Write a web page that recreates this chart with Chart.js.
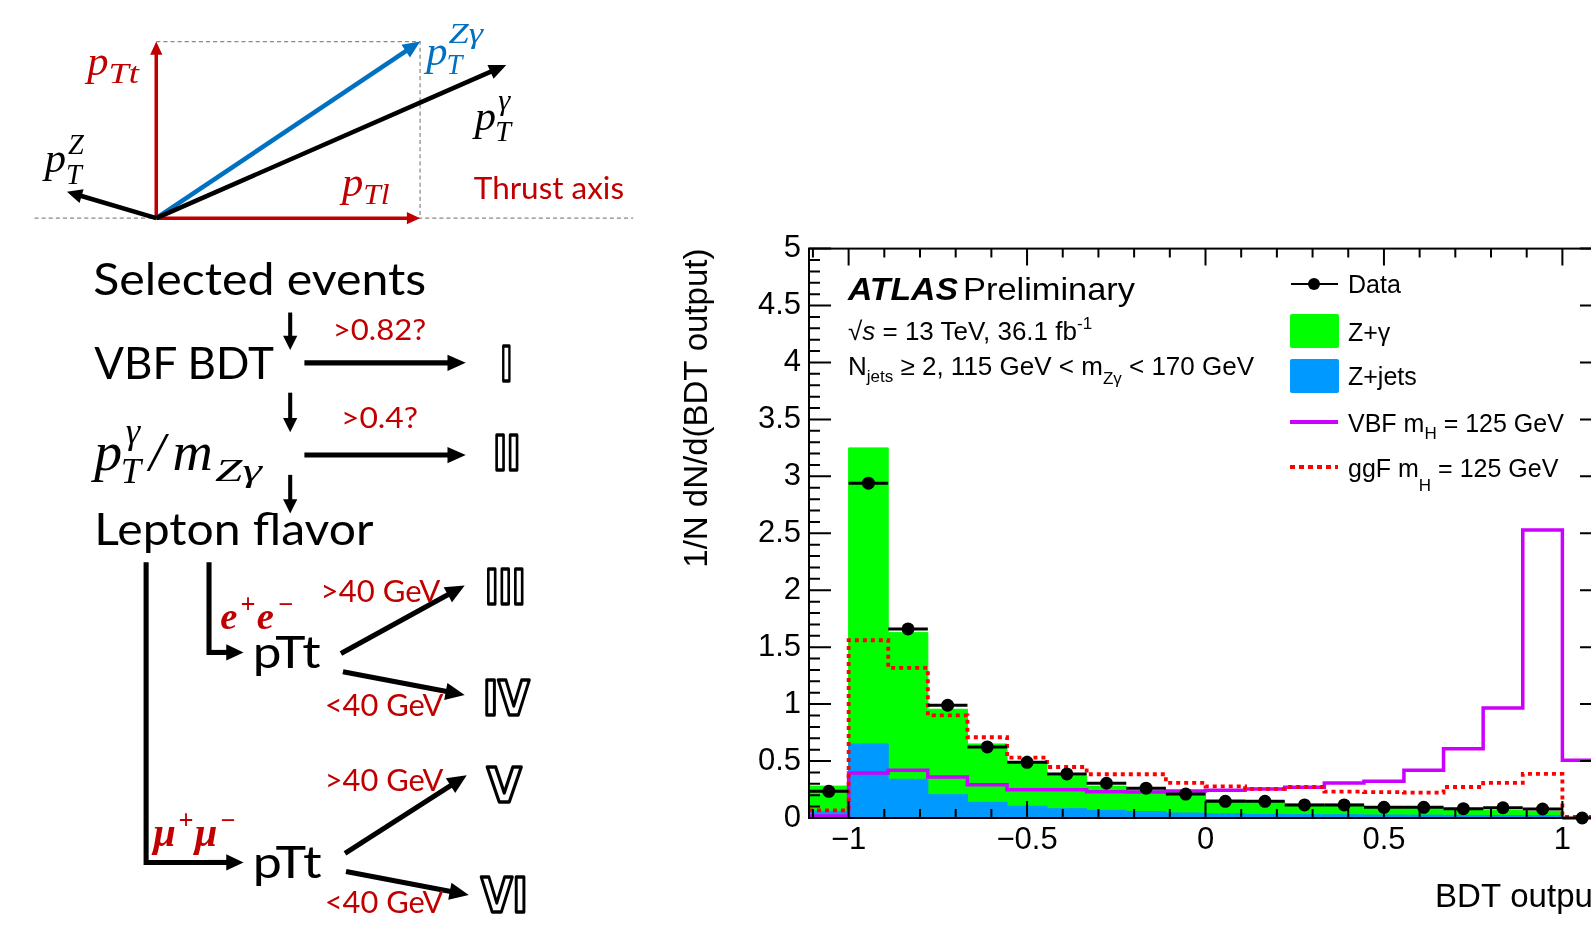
<!DOCTYPE html>
<html>
<head>
<meta charset="utf-8">
<script src="https://cdn.jsdelivr.net/npm/chart.js"></script>
<style>
  html, body { margin: 0; padding: 0; background: #fff; }
  body { width: 1591px; height: 927px; overflow: hidden; position: relative; }
  #plot { position: absolute; left: 640px; top: 0; width: 1000px; height: 927px; }
  #overlay { position: absolute; left: 0; top: 0; pointer-events: none; }
</style>
</head>
<body>
<div id="plot"><canvas id="bdt" width="1000" height="927"></canvas></div>
<svg id="overlay" width="1591" height="927" viewBox="0 0 1591 927" xmlns="http://www.w3.org/2000/svg">
  <g id="diagram" transform="scale(1.01467)"></g>
  <g font-family="Liberation Sans, Arial, sans-serif" fill="#000">
    <text x="848" y="300" font-size="32" font-weight="bold" font-style="italic" textLength="110" lengthAdjust="spacingAndGlyphs">ATLAS</text>
    <text x="963" y="300" font-size="32" textLength="172" lengthAdjust="spacingAndGlyphs">Preliminary</text>
    <text x="848" y="340" font-size="26">√<tspan font-style="italic">s</tspan> = 13 TeV, 36.1 fb<tspan font-size="17" dy="-11">-1</tspan></text>
    <text x="848" y="375" font-size="26">N<tspan font-size="17" dy="7">jets</tspan><tspan dy="-7"> ≥ 2, 115 GeV &lt; m</tspan><tspan font-size="17" dy="9">Zγ</tspan><tspan dy="-9"> &lt; 170 GeV</tspan></text>

    <line x1="1291" y1="284" x2="1338" y2="284" stroke="#000" stroke-width="2"/>
    <circle cx="1314" cy="284" r="6" fill="#000"/>
    <text x="1348" y="293" font-size="25">Data</text>
    <rect x="1290" y="314" width="49" height="34" rx="2" fill="#00ff00"/>
    <text x="1348" y="341" font-size="25">Z+γ</text>
    <rect x="1290" y="359" width="49" height="34" rx="2" fill="#0099ff"/>
    <text x="1348" y="385" font-size="25">Z+jets</text>
    <line x1="1290" y1="422" x2="1338" y2="422" stroke="#cc00ff" stroke-width="4"/>
    <text x="1348" y="432" font-size="25">VBF m<tspan font-size="17" dy="7">H</tspan><tspan dy="-7"> = 125 GeV</tspan></text>
    <line x1="1290" y1="467" x2="1338" y2="467" stroke="#ff0000" stroke-width="4" stroke-dasharray="5 4"/>
    <text x="1348" y="477" font-size="25">ggF m<tspan font-size="17" dy="14">H</tspan><tspan dy="-14"> = 125 GeV</tspan></text>
  </g>
</svg>
<script>
// BDT output bins (width 1/9), with under/overflow-like bins outside [-1, 1]
const binEdges = [-1.111, -1, -0.889, -0.778, -0.667, -0.556, -0.444, -0.333, -0.222, -0.111,
                  0, 0.111, 0.222, 0.333, 0.444, 0.556, 0.667, 0.778, 0.889, 1, 1.111];

const zjets  = [0.06, 0.65, 0.34, 0.205, 0.138, 0.103, 0.082, 0.067, 0.056, 0.044,
                0.038, 0.032, 0.029, 0.028, 0.026, 0.025, 0.023, 0.022, 0.021, 0];
const zgamma = [0.22, 2.6, 1.29, 0.75, 0.512, 0.377, 0.288, 0.213, 0.189, 0.174,
                0.122, 0.114, 0.094, 0.095, 0.071, 0.072, 0.056, 0.045, 0.038, 0];
const dataPts = [0.234, 2.94, 1.66, 0.99, 0.624, 0.489, 0.387, 0.305, 0.262, 0.21,
                 0.146, 0.146, 0.115, 0.115, 0.094, 0.094, 0.082, 0.09, 0.079, 0];
const vbf = [0.018, 0.395, 0.419, 0.36, 0.293, 0.249, 0.249, 0.231, 0.228, 0.238,
             0.243, 0.255, 0.27, 0.308, 0.322, 0.419, 0.609, 0.967, 2.53, 0.507];
const ggf = [0.067, 1.561, 1.318, 0.902, 0.709, 0.53, 0.448, 0.384, 0.384, 0.308,
             0.278, 0.255, 0.272, 0.231, 0.228, 0.223, 0.272, 0.308, 0.387, 0.01];

const xTickLabels = [-1, -0.5, 0, 0.5, 1];
const yTickLabels = [0, 0.5, 1, 1.5, 2, 2.5, 3, 3.5, 4, 4.5, 5];

const nBins = binEdges.length - 1;
const binCenters = binEdges.slice(0, -1).map((e, i) => (e + binEdges[i + 1]) / 2);
const bkgTotal = zjets.map((v, i) => v + zgamma[i]);

// histogram outline points: one point per lower edge, plus the last upper edge
function stepPoints(values) {
  const pts = values.map((v, i) => ({ x: binEdges[i], y: v }));
  pts.push({ x: binEdges[nBins], y: values[nBins - 1] });
  return pts;
}

const fmt = v => (v < 0 ? '\u2212' + Math.abs(v) : String(v));
const axisFont = { family: 'Liberation Sans, Arial, sans-serif', size: 31 };
const titleFont = { family: 'Liberation Sans, Arial, sans-serif', size: 33 };

// ROOT-like frame: inward ticks on all four sides, x-error bars on data
const rootFrame = {
  id: 'rootFrame',
  beforeDatasetDraw(chart, args) {
    if (args.index !== 0) return;
    const { ctx, scales: { x, y } } = chart;
    ctx.save();
    ctx.strokeStyle = '#000';
    ctx.lineWidth = 3;
    dataPts.forEach((v, i) => {
      const py = y.getPixelForValue(v);
      ctx.beginPath();
      ctx.moveTo(x.getPixelForValue(binEdges[i]), py);
      ctx.lineTo(x.getPixelForValue(binEdges[i + 1]), py);
      ctx.stroke();
    });
    ctx.restore();
  },
  afterDatasetsDraw(chart) {
    const { ctx, chartArea: a, scales: { x, y } } = chart;
    ctx.save();
    ctx.strokeStyle = '#000';
    ctx.lineWidth = 2;
    ctx.strokeRect(a.left, a.top, a.right - a.left, a.bottom - a.top);
    ctx.beginPath();
    for (let k = -11; k <= 11; k++) {
      const px = x.getPixelForValue(k / 10);
      const len = k % 5 === 0 ? 17 : 9;
      ctx.moveTo(px, a.bottom); ctx.lineTo(px, a.bottom - len);
      ctx.moveTo(px, a.top); ctx.lineTo(px, a.top + len);
    }
    for (let k = 0; k <= 50; k++) {
      const py = y.getPixelForValue(k / 10);
      const len = k % 5 === 0 ? 22 : 11;
      ctx.moveTo(a.left, py); ctx.lineTo(a.left + len, py);
      ctx.moveTo(a.right, py); ctx.lineTo(a.right - len, py);
    }
    ctx.stroke();
    ctx.restore();
  }
};

new Chart(document.getElementById('bdt'), {
  type: 'line',
  data: {
    datasets: [
      {
        label: 'Data',
        data: binCenters.map((c, i) => ({ x: c, y: dataPts[i] })),
        showLine: false,
        pointRadius: 6.5,
        pointBackgroundColor: '#000',
        pointBorderWidth: 0,
        clip: false,
        order: 0
      },
      {
        label: 'ggF mH = 125 GeV',
        data: stepPoints(ggf),
        stepped: 'before',
        borderColor: '#ff0000',
        borderWidth: 3.8,
        borderDash: [4, 4],
        pointRadius: 0,
        fill: false,
        order: 1
      },
      {
        label: 'VBF mH = 125 GeV',
        data: stepPoints(vbf),
        stepped: 'before',
        borderColor: '#cc00ff',
        borderWidth: 3.5,
        pointRadius: 0,
        fill: false,
        order: 2
      },
      {
        label: 'Z+jets',
        data: stepPoints(zjets),
        stepped: 'before',
        borderColor: '#0099ff',
        borderWidth: 1,
        backgroundColor: '#0099ff',
        pointRadius: 0,
        fill: 'origin',
        order: 3
      },
      {
        label: 'Z+γ',
        data: stepPoints(bkgTotal),
        stepped: 'before',
        borderColor: '#00ff00',
        borderWidth: 1,
        backgroundColor: '#00ff00',
        pointRadius: 0,
        fill: 'origin',
        order: 4
      }
    ]
  },
  options: {
    responsive: false,
    animation: false,
    layout: { padding: { top: 248.6, right: 38, bottom: 0, left: 0 } },
    plugins: { legend: { display: false }, tooltip: { enabled: false } },
    scales: {
      x: {
        type: 'linear',
        min: binEdges[0],
        max: binEdges[nBins],
        afterBuildTicks: s => { s.ticks = xTickLabels.map(v => ({ value: v })); },
        afterFit: s => { s.height = 109; },
        ticks: { callback: v => fmt(v), font: axisFont, color: '#000', padding: 4, maxRotation: 0, autoSkip: false },
        grid: { display: false, drawTicks: false },
        border: { display: false },
        title: { display: true, text: 'BDT output', align: 'end', font: titleFont, color: '#000', padding: { top: 0, bottom: 9 } }
      },
      y: {
        type: 'linear',
        min: 0,
        max: 5,
        afterBuildTicks: s => { s.ticks = yTickLabels.map(v => ({ value: v })); },
        afterFit: s => { s.width = 169; },
        ticks: { callback: v => fmt(v), font: axisFont, color: '#000', padding: 8, autoSkip: false },
        grid: { display: false, drawTicks: false },
        border: { display: false },
        title: { display: true, text: '1/N dN/d(BDT output)', align: 'end', font: titleFont, color: '#000', padding: { top: 38, bottom: 0 } }
      }
    }
  },
  plugins: [rootFrame]
});

// ---- left-hand diagram (drawn in the reference's own 1568-wide units) ----
const NS = 'http://www.w3.org/2000/svg';
const dg = document.getElementById('diagram');
const RED = '#c00000', BLUE = '#0070c0';

function el(name, attrs, text) {
  const e = document.createElementNS(NS, name);
  for (const k in attrs) e.setAttribute(k, attrs[k]);
  if (text !== undefined) e.textContent = text;
  dg.appendChild(e);
  return e;
}
function arrow(x1, y1, x2, y2, color, w, hl, hw) {
  const L = Math.hypot(x2 - x1, y2 - y1), ux = (x2 - x1) / L, uy = (y2 - y1) / L;
  const bx = x2 - ux * hl, by = y2 - uy * hl;
  el('line', { x1, y1, x2: bx + ux, y2: by + uy, stroke: color, 'stroke-width': w });
  el('polygon', { points: `${x2},${y2} ${bx - uy * hw / 2},${by + ux * hw / 2} ${bx + uy * hw / 2},${by - ux * hw / 2}`, fill: color });
}
function txt(x, y, s, o) {
  const a = { x, y, 'font-family': o.family || 'Lato, sans-serif', 'font-size': o.size, fill: o.fill || '#000' };
  if (o.italic) a['font-style'] = 'italic';
  if (o.bold) a['font-weight'] = 'bold';
  if (o.len) { a.textLength = o.len; a.lengthAdjust = 'spacingAndGlyphs'; }
  return el('text', a, s);
}
const M = 'Liberation Serif, serif';
function roman(x, y, s, len) {
  el('text', { x, y, 'font-family': 'DejaVu Sans, sans-serif', 'font-weight': 'bold', 'font-size': 48,
    fill: '#fff', stroke: '#000', 'stroke-width': 3.5, 'stroke-linejoin': 'round',
    textLength: len, lengthAdjust: 'spacingAndGlyphs' }, s);
}

// vector sketch
el('line', { x1: 34, y1: 215, x2: 624, y2: 215, stroke: '#888', 'stroke-width': 1.2, 'stroke-dasharray': '4 3' });
el('polyline', { points: '154,41 414,41 414,215', fill: 'none', stroke: '#888', 'stroke-width': 1.2, 'stroke-dasharray': '4 3' });
arrow(154, 215, 154, 41, RED, 3.5, 13, 12);
arrow(154, 215, 414, 215, RED, 3.5, 13, 12);
arrow(154, 215, 414, 41, BLUE, 4.5, 17, 15);
arrow(154, 215, 499, 64, '#000', 4.5, 17, 15);
arrow(154, 215, 66, 189, '#000', 4.5, 15, 14);

txt(86, 74, 'p', { family: M, italic: true, size: 42, fill: RED });
txt(107, 82, 'Tt', { family: M, italic: true, size: 30, fill: RED, len: 30 });
txt(420, 64, 'p', { family: M, italic: true, size: 42, fill: BLUE });
txt(442, 42, 'Zγ', { family: M, italic: true, size: 30, fill: BLUE, len: 34 });
txt(440, 73, 'T', { family: M, italic: true, size: 28, fill: BLUE });
txt(468, 128, 'p', { family: M, italic: true, size: 42 });
txt(491, 108, 'γ', { family: M, italic: true, size: 30 });
txt(488, 139, 'T', { family: M, italic: true, size: 28 });
txt(44, 170, 'p', { family: M, italic: true, size: 42 });
txt(67, 152, 'Z', { family: M, italic: true, size: 28 });
txt(65, 181, 'T', { family: M, italic: true, size: 28 });
txt(337, 193, 'p', { family: M, italic: true, size: 42, fill: RED });
txt(358, 201, 'Tl', { family: M, italic: true, size: 30, fill: RED, len: 26 });
txt(467, 196, 'Thrust axis', { size: 30, fill: RED, len: 148 });

// categorisation flow
txt(92, 291, 'Selected events', { size: 44, len: 328 });
arrow(286, 308, 286, 345, '#000', 4, 14, 14);
txt(93, 374, 'VBF BDT', { size: 44, len: 177 });
arrow(300, 357.6, 459, 357.6, '#000', 5, 18, 16);
txt(328, 335, '>0.82?', { size: 28, fill: RED, len: 92 });
roman(493, 375, 'I', 12);
arrow(286, 387, 286, 426, '#000', 4, 14, 14);
txt(93, 463, 'p', { family: M, italic: true, size: 55 });
txt(124, 437, 'γ', { family: M, italic: true, size: 36 });
txt(119, 476, 'T', { family: M, italic: true, size: 36 });
txt(147, 463, '/', { family: M, italic: true, size: 55 });
txt(170, 463, 'm', { family: M, italic: true, size: 55 });
txt(212, 474, 'Zγ', { family: M, italic: true, size: 32, len: 46 });
arrow(300, 448.5, 459, 448.5, '#000', 5, 18, 16);
txt(336, 422, '>0.4?', { size: 28, fill: RED, len: 76 });
roman(486, 463, 'II', 27);
arrow(286, 468, 286, 506, '#000', 4, 14, 14);
txt(93, 537, 'Lepton flavor', { size: 44, len: 275 });

// e+e- branch
el('polyline', { points: '206,554 206,643 222,643', fill: 'none', stroke: '#000', 'stroke-width': 5 });
arrow(204, 643, 240, 643, '#000', 5, 17, 16);
txt(217, 620, 'e', { family: M, italic: true, bold: true, size: 38, fill: RED });
txt(237, 604, '+', { family: M, bold: true, size: 26, fill: RED });
txt(253, 620, 'e', { family: M, italic: true, bold: true, size: 38, fill: RED });
txt(274, 604, '\u2212', { family: M, bold: true, size: 26, fill: RED });
txt(249, 658, 'pTt', { size: 44, len: 67 });
arrow(336, 644, 458, 577, '#000', 5, 19, 17);
arrow(338, 662, 458, 685, '#000', 5, 19, 17);
txt(316, 593, '>40 GeV', { size: 30, fill: RED, len: 118 });
txt(320, 706, '<40 GeV', { size: 30, fill: RED, len: 117 });
roman(478, 595, 'III', 40);
roman(476, 705, 'IV', 46);

// mu+mu- branch
el('polyline', { points: '144,554 144,850 222,850', fill: 'none', stroke: '#000', 'stroke-width': 5 });
arrow(204, 850, 240, 850, '#000', 5, 17, 16);
txt(151, 834, 'μ', { family: M, italic: true, bold: true, size: 40, fill: RED });
txt(176, 817, '+', { family: M, bold: true, size: 26, fill: RED });
txt(192, 834, 'μ', { family: M, italic: true, bold: true, size: 40, fill: RED });
txt(217, 817, '\u2212', { family: M, bold: true, size: 26, fill: RED });
txt(249, 865, 'pTt', { size: 44, len: 68 });
arrow(340, 841, 460, 764, '#000', 5, 19, 17);
arrow(341, 859, 462, 882, '#000', 5, 19, 17);
txt(320, 780, '>40 GeV', { size: 30, fill: RED, len: 117 });
txt(320, 900, '<40 GeV', { size: 30, fill: RED, len: 117 });
roman(480, 790, 'V', 34);
roman(474, 899, 'VI', 46);
</script>
</body>
</html>
